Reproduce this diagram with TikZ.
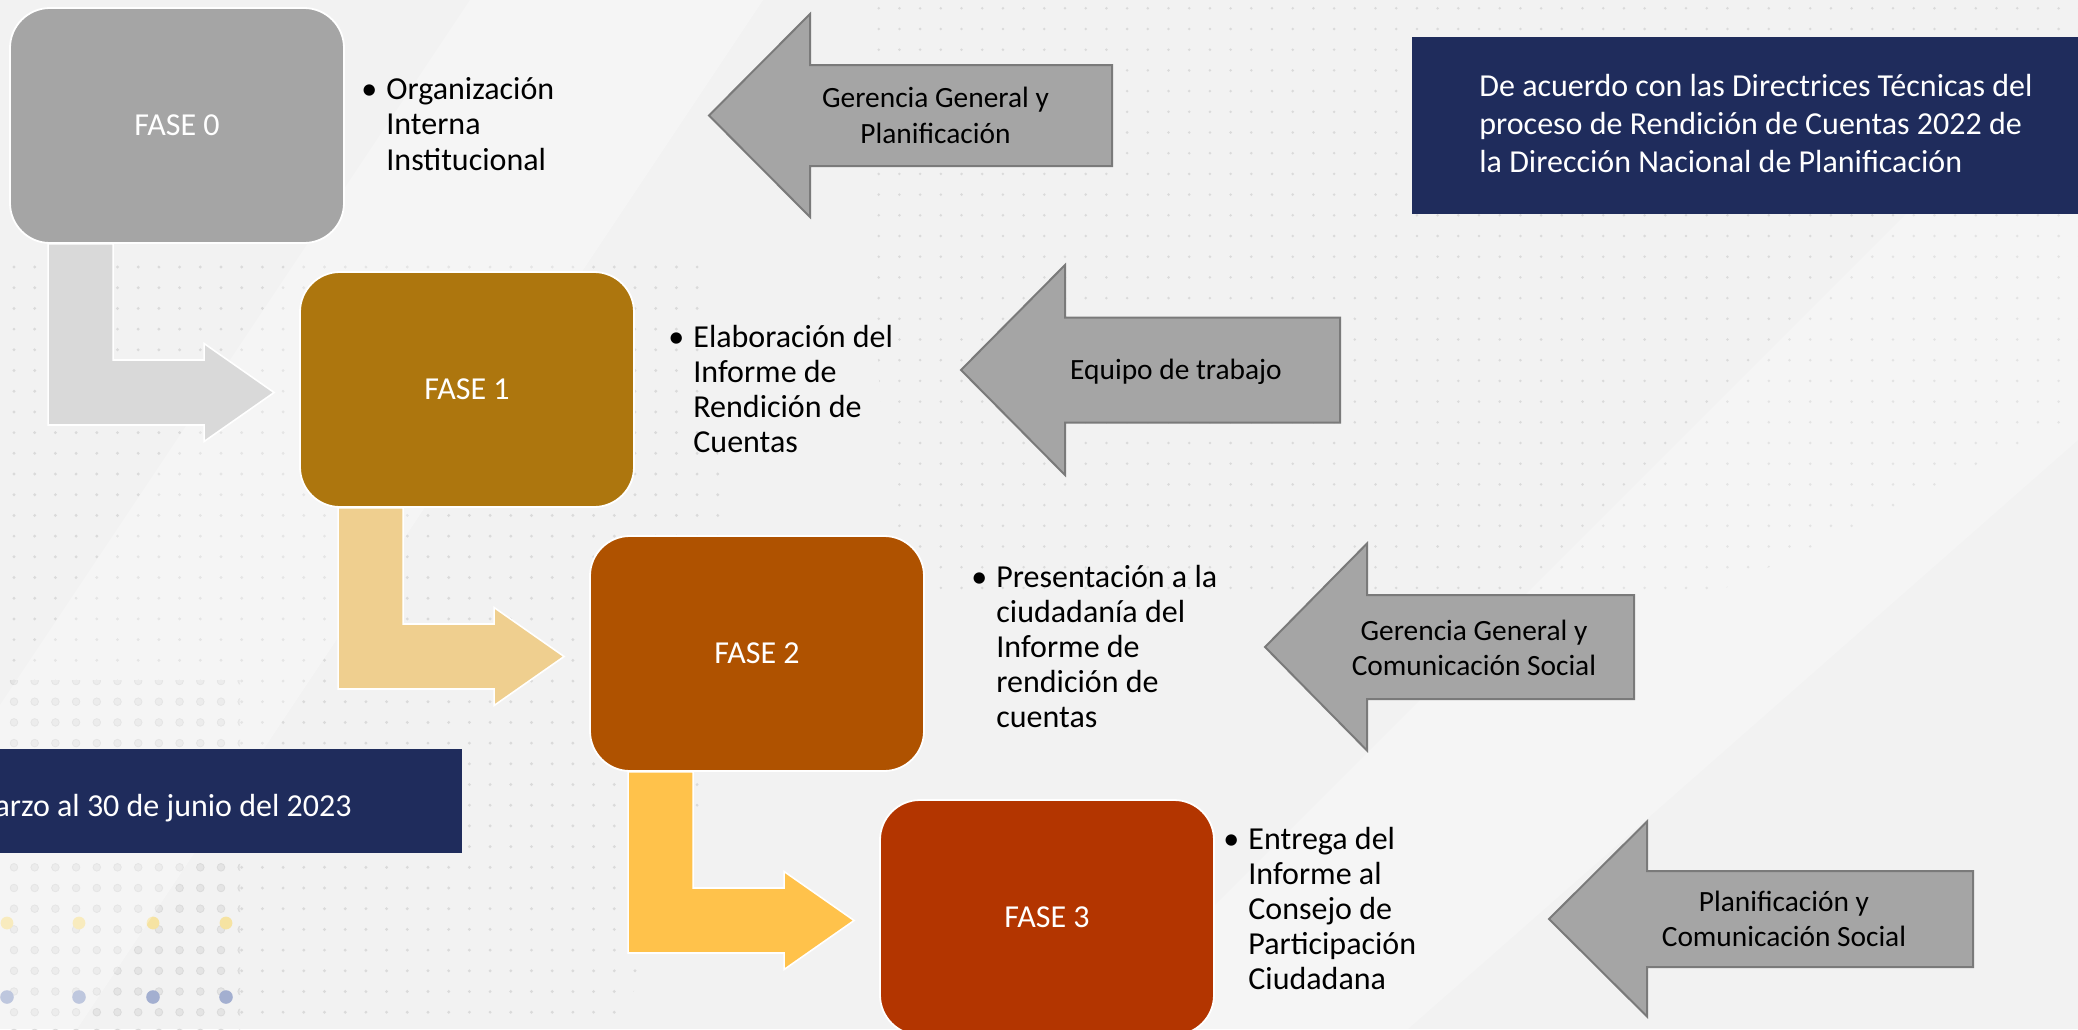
\documentclass[tikz,border=0pt]{standalone}
\usepackage{fontspec}
\setmainfont{Carlito}
\usetikzlibrary{calc}
\pgfdeclarelayer{back}
\pgfdeclarelayer{mid}
\pgfsetlayers{back,mid,main}
\definecolor{bgc}{HTML}{F2F2F2}
\definecolor{dotc}{HTML}{DADADA}
\definecolor{dotbig}{HTML}{E4E4E4}
\definecolor{faseA}{HTML}{A5A5A5}
\definecolor{faseB}{HTML}{AD760E}
\definecolor{faseC}{HTML}{AF5200}
\definecolor{faseD}{HTML}{B33500}
\definecolor{arrA}{HTML}{D9D9D9}
\definecolor{arrB}{HTML}{EFCF8F}
\definecolor{arrC}{HTML}{FFC24B}
\definecolor{lgray}{HTML}{A5A5A5}
\definecolor{lgrayline}{HTML}{7A7A7A}
\definecolor{navy}{HTML}{1F2C5C}
\definecolor{yeldot}{HTML}{F6E3A2}
\definecolor{bludot}{HTML}{A3AFD0}
\tikzset{
  fase/.style={draw=white, line width=0.9pt, rounded corners=20pt,
    minimum width=167pt, minimum height=117.5pt, inner sep=0pt,
    text=white, font=\fontsize{16}{17.5}\selectfont},
  bentarrow/.style={draw=white, line width=0.8pt},
  leftarrow/.style={fill=lgray, draw=lgrayline, line width=1pt},
  txt/.style={font=\fontsize{16}{17.5}\selectfont, inner sep=0pt, text=black},
  arrtxt/.style={font=\fontsize{14.7}{17.75}\selectfont, inner sep=0pt, text=black},
  navytxt/.style={font=\fontsize{16}{19.2}\selectfont, inner sep=0pt, text=white},
}
\newcommand{\bentconn}[3]{%
  \coordinate (t#1) at ($(#2.west)+(-25,3)$);
  \coordinate (l#1) at ($(#1.south west)+(39,0)$);
  \coordinate (r#1) at ($(#1.south west)+(104,0)$);
  \coordinate (h#1) at ($(t#1)+(-70,0)$);
  \filldraw[bentarrow, fill=#3] (l#1) -- ($(l#1 |- t#1)+(0,32.5)$)
    -- ($(h#1)+(0,32.5)$) -- ($(h#1)+(0,49)$) -- (t#1)
    -- ($(h#1)+(0,-49)$) -- ($(h#1)+(0,-32.5)$)
    -- ($(r#1 |- t#1)+(0,-32.5)$) -- (r#1) -- cycle;
}
% tip x, center y, head back x, head half, shaft half, right x
\newcommand{\leftshape}[6]{%
  \filldraw[leftarrow] (#1,#2) -- (#3,#2-#4) -- (#3,#2-#5) -- (#6,#2-#5)
    -- (#6,#2+#5) -- (#3,#2+#5) -- (#3,#2+#4) -- cycle;
}
\begin{document}
\begin{tikzpicture}[x=0.5pt,y=-0.5pt]
\useasboundingbox (0,0) rectangle (2078,1029);
\begin{pgfonlayer}{back}
  \fill[bgc] (0,0) rectangle (2078,1029);
  % top right dot grid
  \begin{scope}
    \clip (860,0) -- (2078,0) -- (2078,420) -- (1700,600) -- (890,600) -- cycle;
    \fill[dotc] \foreach \i in {0,...,59} {\foreach \j in {0,...,29}
      {(858+20.7*\i, 8.3+20.7*\j) circle[radius=0.7pt]}};
  \end{scope}
  % left dot grid (small)
  \begin{scope}
    \clip (0,250) -- (700,250) -- (740,700) -- (620,1029) -- (240,1029)
      -- (240,680) -- (0,680) -- cycle;
    \fill[dotc] \foreach \i in {0,...,36} {\foreach \j in {0,...,37}
      {(14+20.7*\i, 267+20.7*\j) circle[radius=0.8pt]}};
  \end{scope}
  % left dot grid (large faint circles)
  \begin{scope}
    \clip (0,680) rectangle (240,1029);
    \filldraw[fill=dotbig, draw=dotc, line width=0.4pt]
      \foreach \i in {0,...,11} {\foreach \j in {20,...,37}
      {(14+20.7*\i, 267+20.7*\j) circle[radius=1.9pt]}};
  \end{scope}
  \fill[yeldot] \foreach \xx in {7,79,153,226} {(\xx,923) circle[radius=3.2pt]};
  \fill[bludot] \foreach \xx in {7,79,153,226} {(\xx,997) circle[radius=3.4pt]};
  % light diagonal bands
  \fill[white, opacity=0.3] (470,0) -- (763,0) -- (77,1029) -- (-216,1029) -- cycle;
  \fill[white, opacity=0.25] (1091,1029) -- (1408,1029) -- (2078,440) -- (2078,42) -- cycle;
\end{pgfonlayer}

% navy boxes
\fill[navy] (1412,37) rectangle (2090,214);
\fill[navy] (-10,749) rectangle (462,853);

% phase boxes
\node[fase, fill=faseA] (f0) at (177,125.5) {FASE 0};
\node[fase, fill=faseB] (f1) at (467,389.5) {FASE 1};
\node[fase, fill=faseC] (f2) at (757,653.5) {FASE 2};
\node[fase, fill=faseD] (f3) at (1047,917.5) {FASE 3};

% bent connectors
\begin{pgfonlayer}{mid}
  \bentconn{f0}{f1}{arrA}
  \bentconn{f1}{f2}{arrB}
  \bentconn{f2}{f3}{arrC}
\end{pgfonlayer}

% left pointing arrows
\leftshape{709}{115.5}{810}{101.5}{50.5}{1112}
\leftshape{961}{370}{1065}{105}{52.5}{1340}
\leftshape{1265}{647}{1367}{103.5}{52}{1634}
\leftshape{1549}{919}{1647}{97.5}{48}{1973}

\node[arrtxt, anchor=base] (ta) at (935.5,107) {\begin{tabular}[t]{@{}c@{}}Gerencia General y\\[0.5pt]Planificación\end{tabular}};
\node[arrtxt, anchor=base] (tb) at (1176,379) {Equipo de trabajo};
\node[arrtxt, anchor=base] (tc) at (1474,640) {\begin{tabular}[t]{@{}c@{}}Gerencia General y\\Comunicación Social\end{tabular}};
\node[arrtxt, anchor=base] (td) at (1784,911) {\begin{tabular}[t]{@{}c@{}}Planificación y\\Comunicación Social\end{tabular}};

% bullet texts
\node[txt, anchor=base west] (b0) at (386,99) {\begin{tabular}[t]{@{}l@{}}\llap{•\hspace{4.5pt}}Organización\\[0.25pt]Interna\\[0.25pt]Institucional\end{tabular}};
\node[txt, anchor=base west] (b1) at (693,347) {\begin{tabular}[t]{@{}l@{}}\llap{•\hspace{4.5pt}}Elaboración del\\Informe de\\Rendición de\\Cuentas\end{tabular}};
\node[txt, anchor=base west] (b2) at (996,587) {\begin{tabular}[t]{@{}l@{}}\llap{•\hspace{4.5pt}}Presentación a la\\ciudadanía del\\Informe de\\rendición de\\cuentas\end{tabular}};
\node[txt, anchor=base west] (b3) at (1248,849) {\begin{tabular}[t]{@{}l@{}}\llap{•\hspace{4.5pt}}Entrega del\\Informe al\\Consejo de\\Participación\\Ciudadana\end{tabular}};

% navy texts
\node[navytxt, anchor=base west] (n1) at (1479,96) {\begin{tabular}[t]{@{}l@{}}De acuerdo con las Directrices Técnicas del\\proceso de Rendición de Cuentas 2022 de\\la Dirección Nacional de Planificación\end{tabular}};
\node[navytxt, anchor=base east] (n2) at (352,816) {arzo al 30 de junio del 2023};
\end{tikzpicture}
\end{document}
